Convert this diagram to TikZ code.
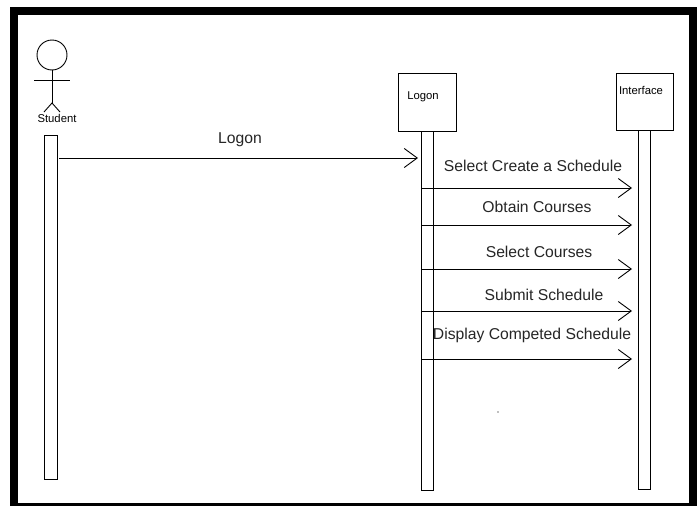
\documentclass[tikz,border=0pt]{standalone}
\usepackage{fontspec}
\setmainfont{Liberation Sans}
\usetikzlibrary{arrows.meta}
\newcommand{\smallf}{\fontsize{11.3}{13}\selectfont}
\newcommand{\msgf}{\fontsize{15.7}{18}\selectfont}
\begin{document}
\begin{tikzpicture}[x=1pt,y=-1pt,
  ln/.style={line width=0.9pt},
  bar/.style={draw, line width=0.9pt, fill=white, inner sep=0pt, anchor=north},
  obj/.style={draw, line width=0.9pt, fill=white, inner sep=0pt},
  small/.style={font=\smallf, inner sep=0pt},
  lbl/.style={font=\msgf, text=black!85, inner sep=0pt},
  msg/.style={line width=0.9pt, -{Straight Barb[length=13pt,width=19pt,line width=0.9pt]}}]
\useasboundingbox (0,0) rectangle (700,506);
% frame
\fill[black] (10,7) rectangle (697,506);
\fill[white] (18,15) rectangle (689,503);
% actor
\draw[ln] (52,55) circle (15pt);
\draw[ln] (52,70) -- (52,103);
\draw[ln] (34,80) -- (70,80);
\draw[ln] (44,112) -- (52,103) -- (60,112);
\node[small] (student) at (57,118) {Student};
% objects
\node[obj, minimum width=58pt, minimum height=58pt] (logon) at (427,102) {};
\node[small] (logonlbl) at (423,97) {Logon};
\node[obj, minimum width=57pt, minimum height=57pt] (iface) at (644.5,101.5) {};
\node[small] (ifacelbl) at (641,90) {Interface};
% activation bars
\node[bar, minimum width=13pt, minimum height=344pt] (sbar) at (50.5,135) {};
\node[bar, minimum width=12pt, minimum height=359pt] (lbar) at (427,131) {};
\node[bar, minimum width=12pt, minimum height=359pt] (ibar) at (644,130) {};
% message end points
\coordinate (m0s) at (59,158);   \coordinate (m0e) at (418,158);
\coordinate (m1s) at (421,188);  \coordinate (m1e) at (632,188);
\coordinate (m2s) at (421,225);  \coordinate (m2e) at (632,225);
\coordinate (m3s) at (421,269);  \coordinate (m3e) at (632,269);
\coordinate (m4s) at (421,311);  \coordinate (m4e) at (632,311);
\coordinate (m5s) at (421,359);  \coordinate (m5e) at (632,359);
% messages
\draw[msg] (m0s) -- (m0e);
\draw[msg] (m1s) -- (m1e);
\draw[msg] (m2s) -- (m2e);
\draw[msg] (m3s) -- (m3e);
\draw[msg] (m4s) -- (m4e);
\draw[msg] (m5s) -- (m5e);
% labels
\node[lbl] (l0) at (240,140) {Logon};
\node[lbl] (l1) at (533,166) {Select Create a Schedule};
\node[lbl] (l2) at (537,207) {Obtain Courses};
\node[lbl] (l3) at (539,252) {Select Courses};
\node[lbl] (l4) at (544,295) {Submit Schedule};
\node[lbl] (l5) at (532,335) {Display Competed Schedule};
% stray dot
\fill[gray] (498,412) circle (0.8pt);
\end{tikzpicture}
\end{document}
